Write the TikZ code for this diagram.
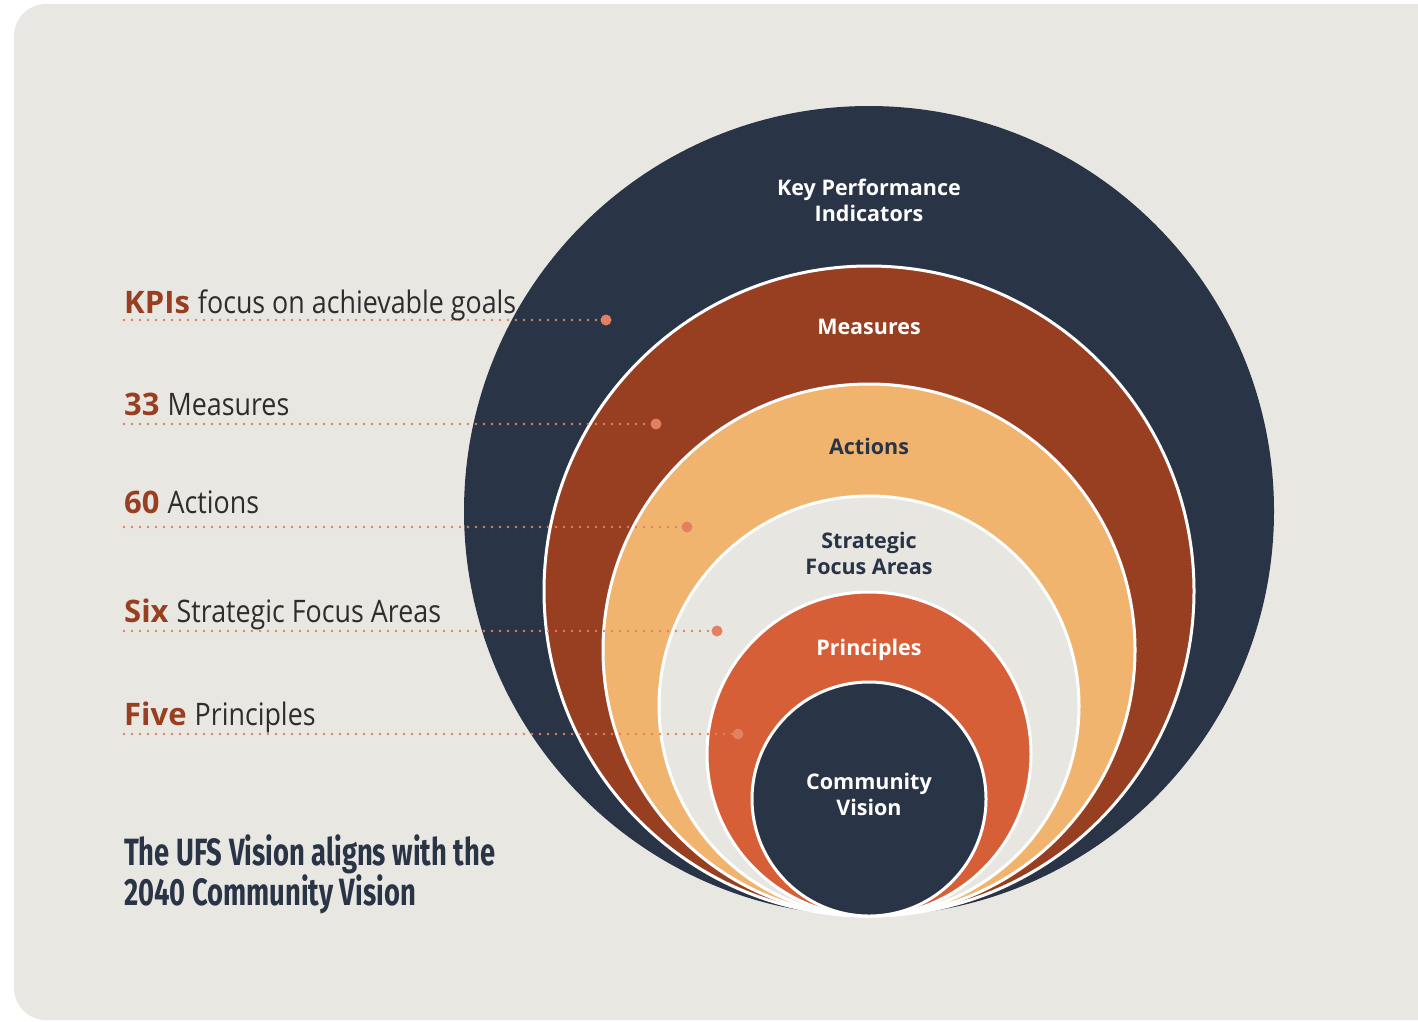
\documentclass[tikz,border=0pt]{standalone}
\usepackage{fontspec}
\setmainfont{Open Sans}
\newfontfamily\narrowfont[FakeStretch=0.865]{Open Sans}
\newfontfamily\headfont[FakeStretch=0.72]{Fira Sans}
\usetikzlibrary{positioning}

\definecolor{bgcol}{HTML}{E9E7E2}
\definecolor{navy}{HTML}{2A3447}
\definecolor{rust}{HTML}{983F21}
\definecolor{sand}{HTML}{F0B46E}
\definecolor{stone}{HTML}{E8E6E1}
\definecolor{ember}{HTML}{D65F37}
\definecolor{salmon}{HTML}{E2805F}
\definecolor{inkgray}{HTML}{2D2D2D}

\begin{document}
\begin{tikzpicture}[
    x=1pt, y=-1pt,
    ring/.style={circle, inner sep=0pt, draw=white, line width=3pt},
    ringtext/.style={align=center, inner sep=0pt, font=\bfseries\fontsize{21.5}{26}\selectfont},
    pindot/.style={circle, fill=salmon, inner sep=0pt, minimum size=11pt},
    leader/.style={salmon, line width=2.9pt, line cap=round, dash pattern=on 0pt off 8pt},
    tagtext/.style={anchor=base west, inner sep=0pt, text=inkgray, font=\fontsize{31}{36}\selectfont},
    headline/.style={anchor=base west, inner sep=0pt, align=left, text=navy, font=\headfont\bfseries\fontsize{38}{40}\selectfont}
]
\useasboundingbox (0,0) rectangle (1418,1021);

% Background panel
\fill[bgcol, rounded corners=32pt] (14,4) rectangle (1480,1020);

% Nested circles
\node[ring, draw=none, fill=navy, minimum size=810pt] (kpi) at (869,511) {};
\node[ring, fill=rust, minimum size=650pt] (meas) at (869,591) {};
\node[ring, fill=sand, minimum size=532pt] (act) at (869,650) {};
\node[ring, fill=stone, minimum size=420pt] (sfa) at (869,706) {};
\node[ring, fill=ember, minimum size=324pt] (prin) at (869,754) {};
\node[ring, fill=navy, minimum size=234pt] (cv) at (869,799) {};

% Circle titles
\node[ringtext, text=white] (kpitxt) at (869,200) {Key Performance\\Indicators};
\node[ringtext, text=white] (meastxt) at (869,327) {Measures};
\node[ringtext, text=navy] (acttxt) at (869,446) {Actions};
\node[ringtext, text=navy] (sfatxt) at (869,553) {Strategic\\Focus Areas};
\node[ringtext, text=white] (printxt) at (869,650) {Principles};
\node[ringtext, text=white] (cvtxt) at (869,794) {Community\\Vision};

% Leader dots
\node[pindot] (d1) at (606,320) {};
\node[pindot] (d2) at (656,424) {};
\node[pindot] (d3) at (687,527) {};
\node[pindot] (d4) at (717,631) {};
\node[pindot] (d5) at (738,734) {};

% Leader starts
\coordinate (s1) at (124,320);
\coordinate (s2) at (124,424);
\coordinate (s3) at (124,527);
\coordinate (s4) at (124,631);
\coordinate (s5) at (124,734);

\draw[leader] (s1) -- (d1);
\draw[leader] (s2) -- (d2);
\draw[leader] (s3) -- (d3);
\draw[leader] (s4) -- (d4);
\draw[leader] (s5) -- (d5);

% Left labels
\node[tagtext] (t1) at (124,313) {{\bfseries\color{rust}KPIs} {\narrowfont focus on achievable goals}};
\node[tagtext] (t2) at (124,415) {{\bfseries\color{rust}33} {\narrowfont Measures}};
\node[tagtext] (t3) at (124,513) {{\bfseries\color{rust}60} {\narrowfont Actions}};
\node[tagtext] (t4) at (124,622) {{\bfseries\color{rust}Six} {\narrowfont Strategic Focus Areas}};
\node[tagtext] (t5) at (124,725) {{\bfseries\color{rust}Five} {\narrowfont Principles}};

% Headline (base anchor sits on the last line)
\node[headline] (head) at (124,905) {The UFS Vision aligns with the\\2040 Community Vision};

\end{tikzpicture}
\end{document}
